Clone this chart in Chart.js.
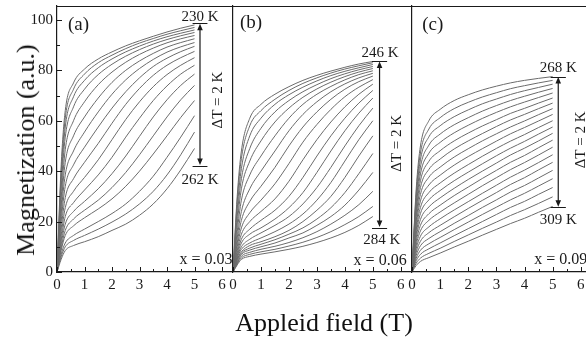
<!DOCTYPE html>
<html><head><meta charset="utf-8">
<script src="https://cdn.jsdelivr.net/npm/chart.js@4.4.1/dist/chart.umd.min.js"></script>
<style>
html,body{margin:0;padding:0;background:#fff;overflow:hidden;}
#wrap{position:relative;width:586px;height:341px;overflow:hidden;background:#fff;}
#wrap canvas{position:absolute;top:0;}
.t{position:absolute;font-family:'Liberation Serif','Times New Roman',serif;color:#111;white-space:nowrap;line-height:1;transform:translate(-50%,-50%);}
</style></head><body>
<div id="wrap">
<canvas id="ca" width="233" height="341" style="left:0px"></canvas>
<canvas id="cb" width="190" height="341" style="left:222px"></canvas>
<canvas id="cc" width="191" height="341" style="left:401px"></canvas>
<div class="t" id="xt" style="left:324px;top:323px;font-size:26px;">Appleid field (T)</div>
<div class="t" id="yt" style="left:26px;top:150px;font-size:26px;transform:translate(-50%,-50%) rotate(-90deg);">Magnetization (a.u.)</div>
</div>
<script>
// ---- data ----
const fields = [0, 0.15, 0.3, 0.6, 1, 1.5, 2, 2.5, 3, 3.5, 4, 4.5, 5];
const xTicks = [0, 1, 2, 3, 4, 5, 6];
const yTicks = [0, 20, 40, 60, 80, 100];

const tempsA = [230,232,234,236,238,240,242,244,246,248,250,252,254,256,258,260,262];
const curvesA = [
 [0,42,64,75,80.5,84.5,87.3,89.7,91.7,93.5,95.2,96.7,98],
 [0,39,61,72.5,78.5,83,86,88.6,90.8,92.6,94.3,95.7,97],
 [0,36,57.5,69.5,76,81,84.5,87.3,89.6,91.6,93.3,94.7,96],
 [0,33,53.5,65.5,72.5,78.3,82.4,85.6,88.2,90.4,92.2,93.7,95],
 [0,29,48.5,60,67.5,74.3,79.3,83.2,86.3,88.8,90.9,92.5,93.8],
 [0,26,43.5,54,61.5,69,75.2,80,83.7,86.7,89.2,91,92.5],
 [0,23,38.5,48,55.5,63.5,70.5,76.2,80.7,84.3,87.2,89.3,91],
 [0,20,34,42.5,49.5,57.5,65,71.5,77,81.5,84.8,87.4,89.5],
 [0,17,29.5,37,43.5,51,59,66.5,72.8,78,82,85,87.5],
 [0,14.5,25.5,32,37.5,44.5,52.5,60.5,67.5,73.5,78.3,82,85],
 [0,12.5,22,27.5,32.5,38.5,45.5,53.5,61,68,73.8,78.5,82],
 [0,11,19,24,28,33,39,46,53.8,61.5,68.3,74,78.5],
 [0,9.5,16.5,21,24.5,28.5,33.5,39.5,46.5,54,61.5,68.3,74],
 [0,8.5,14.5,18.3,21.5,25,29,34,40,46.8,54,61.3,68],
 [0,7,11.5,14.5,17,20,23.2,27,32,38,45.5,53.5,62],
 [0,6,10,12.5,14.5,17,19.8,23,27,32,38.5,46.5,55.5],
 [0,5,8.5,10.5,12,14,16.5,19,22.5,27,33,40.5,49]
];

const tempsB = [246,248,250,252,254,256,258,260,262,264,266,268,270,272,274,276,278,280,282,284];
const curvesB = [
 [0,30,48,61,66.5,70.5,73.5,76,78,79.7,81.2,82.5,83.5],
 [0,28,45,58,64,68.5,72,74.8,77,78.9,80.5,81.8,83],
 [0,25,41,54,61,66.5,70.3,73.3,75.8,77.9,79.6,81,82.3],
 [0,22,37,49,57,63.5,68,71.5,74.3,76.7,78.6,80.2,81.5],
 [0,19,33,44,52,59.5,65,69.3,72.6,75.3,77.5,79.3,80.7],
 [0,16,28.5,38.5,46,54,61,66.5,70.5,73.6,76.2,78.3,79.8],
 [0,13.5,24,33,40,48,56,62.5,67.5,71.5,74.6,77,78.8],
 [0,11.5,20.5,28,34,41.5,50,57.5,63.5,68.5,72.5,75.5,77.7],
 [0,10,17.5,23.5,28.5,35,43,51.5,58.5,64.5,69.5,73.3,76.3],
 [0,8.5,15,20,24,29,36,44.5,52.5,59.5,65.5,70.5,74.5],
 [0,7.5,13,17,20.5,24.5,30,37.5,46,54,61,67,72],
 [0,6.5,11.5,15,17.5,21,25.5,31.5,39.5,48,56,63,69],
 [0,6,10,13,15.5,18.5,22,27,33.5,41.5,50,58,65],
 [0,5.5,9,11.5,13.5,16,19,23,28.5,35.5,44,52.5,60],
 [0,5,8,10.5,12,14,16.5,20,24.5,30,37.5,46,54],
 [0,4.5,7.5,9.5,11,12.8,15,17.5,21,25.5,31.5,39,47],
 [0,4,7,8.7,10,11.5,13.5,15.5,18.5,22,26.5,32.5,39.5],
 [0,3.6,6.3,7.8,9,10.2,11.7,13.6,16,19,22.5,26.7,32],
 [0,3.2,5.6,7,8,9,10.3,11.8,13.7,16,18.8,22,26],
 [0,2.8,5,6.2,7.1,8,9,10.2,11.7,13.5,15.7,18.5,22]
];

const tempsC = [268,270,272,274,276,278,280,282,284,286,288,290,292,294,296,298,300,302,304,306,309];
const curvesC = [
 [0,33.0,50.0,60.0,64.5,68.0,70.3,72.2,73.7,75.0,76.0,76.8,77.5],
 [0,31.2,47.2,56.7,61.2,64.8,67.3,69.4,71.1,72.7,73.9,75.0,76],
 [0,29.3,44.5,53.6,58.0,61.6,64.3,66.7,68.6,70.4,71.9,73.2,74.5],
 [0,27.4,41.6,50.3,54.7,58.4,61.2,63.8,66.0,68.0,69.7,71.3,72.8],
 [0,25.6,38.9,47.1,51.4,55.2,58.2,60.9,63.3,65.5,67.4,69.2,71],
 [0,23.8,36.2,43.9,48.1,52.0,55.1,57.9,60.4,62.9,64.9,67.0,69],
 [0,22.0,33.5,40.7,44.8,48.8,52.0,54.9,57.7,60.3,62.5,64.8,67],
 [0,20.2,30.8,37.6,41.6,45.6,48.9,52.0,54.8,57.5,59.9,62.4,64.8],
 [0,18.5,28.2,34.5,38.4,42.4,45.8,48.9,51.9,54.8,57.3,59.9,62.5],
 [0,16.7,25.6,31.5,35.3,39.2,42.6,45.9,49.0,51.9,54.5,57.3,60],
 [0,15.1,23.2,28.6,32.3,36.2,39.6,42.9,46.1,49.1,51.8,54.7,57.5],
 [0,13.6,20.8,25.8,29.4,33.2,36.7,40.0,43.2,46.4,49.1,52.0,55],
 [0,12.0,18.5,23.1,26.5,30.3,33.7,37.1,40.3,43.5,46.2,49.3,52.3],
 [0,10.6,16.3,20.5,23.8,27.4,30.8,34.2,37.4,40.6,43.4,46.4,49.5],
 [0,9.2,14.2,17.9,21.1,24.6,27.9,31.2,34.4,37.6,40.4,43.4,46.5],
 [0,7.9,12.2,15.6,18.5,21.9,25.2,28.4,31.5,34.7,37.4,40.5,43.5],
 [0,6.6,10.4,13.3,16.0,19.3,22.4,25.6,28.6,31.7,34.3,37.3,40.3],
 [0,5.5,8.6,11.2,13.7,16.8,19.8,22.8,25.7,28.6,31.2,34.1,37],
 [0,4.5,7.0,9.2,11.5,14.4,17.2,20.0,22.8,25.6,28.0,30.8,33.5],
 [0,3.5,5.5,7.4,9.4,12.1,14.7,17.3,19.8,22.4,24.7,27.2,29.8],
 [0,2.6,4.2,5.7,7.5,9.9,12.2,14.6,16.9,19.2,21.3,23.7,26]
];

// ---- annotations (data units) ----
const annA = {
  texts: [
    {t:'(a)', x:0.4, y:98, size:19, align:'left'},
    {t:'230 K', x:5.2, y:101.3, size:15},
    {t:'262 K', x:5.2, y:36.5, size:15},
    {t:'ΔT = 2 K', x:5.85, y:68.2, size:15, rot:true},
    {t:'x = 0.03', x:5.42, y:5.0, size:16}
  ],
  arrow: {x:5.2, y1:98.7, y2:42.2, half:0.27}
};
const annB = {
  texts: [
    {t:'(b)', x:0.25, y:98.6, size:19, align:'left'},
    {t:'246 K', x:5.26, y:86.8, size:15},
    {t:'284 K', x:5.32, y:12.7, size:15},
    {t:'ΔT = 2 K', x:5.85, y:51, size:15, rot:true},
    {t:'x = 0.06', x:5.26, y:4.3, size:16}
  ],
  arrow: {x:5.24, y1:83.7, y2:17.6, half:0.27}
};
const annC = {
  texts: [
    {t:'(c)', x:0.36, y:98, size:19, align:'left'},
    {t:'268 K', x:5.2, y:80.8, size:15},
    {t:'309 K', x:5.2, y:20.6, size:15},
    {t:'ΔT = 2 K', x:6.0, y:52.4, size:15, rot:true},
    {t:'x = 0.09', x:5.29, y:5.0, size:16}
  ],
  arrow: {x:5.2, y1:77.5, y2:25.7, half:0.27}
};

const SERIF = "'Liberation Serif','Times New Roman',serif";
const INK = '#1a1a1a';

const deco = {
  id: 'deco',
  afterDraw(chart, args, opts) {
    const {ctx, chartArea: a, scales: {x, y}} = chart;
    ctx.save();
    ctx.strokeStyle = INK; ctx.lineWidth = 1.2;
    // top frame
    ctx.beginPath(); ctx.moveTo(a.left, a.top + 0.5); ctx.lineTo(a.right, a.top + 0.5); ctx.stroke();
    // inward ticks on x axis
    ctx.lineWidth = 1;
    xTicks.forEach(v => {
      const px = Math.round(x.getPixelForValue(v)) + 0.5;
      ctx.beginPath(); ctx.moveTo(px, a.bottom); ctx.lineTo(px, a.bottom - 5); ctx.stroke();
      const pm = Math.round(x.getPixelForValue(v + 0.5)) + 0.5;
      if (v + 0.5 <= x.max) { ctx.beginPath(); ctx.moveTo(pm, a.bottom); ctx.lineTo(pm, a.bottom - 3); ctx.stroke(); }
    });
    if (opts.yTicks) {
      yTicks.forEach(v => {
        const py = Math.round(y.getPixelForValue(v)) + 0.5;
        ctx.beginPath(); ctx.moveTo(a.left, py); ctx.lineTo(a.left + 5, py); ctx.stroke();
        const pm = Math.round(y.getPixelForValue(v + 10)) + 0.5;
        if (v + 10 <= y.max) { ctx.beginPath(); ctx.moveTo(a.left, pm); ctx.lineTo(a.left + 3, pm); ctx.stroke(); }
      });
    }
    const ann = opts.ann;
    if (ann) {
      const ar = ann.arrow;
      const ax = x.getPixelForValue(ar.x);
      const y1 = y.getPixelForValue(ar.y1), y2 = y.getPixelForValue(ar.y2);
      const xl = x.getPixelForValue(ar.x - ar.half), xr = x.getPixelForValue(ar.x + ar.half);
      ctx.strokeStyle = INK; ctx.fillStyle = INK; ctx.lineWidth = 1.2;
      ctx.beginPath();
      ctx.moveTo(xl, Math.round(y1) + 0.5); ctx.lineTo(xr, Math.round(y1) + 0.5);
      ctx.moveTo(xl, Math.round(y2) + 0.5); ctx.lineTo(xr, Math.round(y2) + 0.5);
      ctx.moveTo(ax, y1 + 5); ctx.lineTo(ax, y2 - 5);
      ctx.stroke();
      ctx.beginPath();
      ctx.moveTo(ax, y1 + 0.5); ctx.lineTo(ax - 2.8, y1 + 7); ctx.lineTo(ax + 2.8, y1 + 7); ctx.closePath();
      ctx.moveTo(ax, y2 - 0.5); ctx.lineTo(ax - 2.8, y2 - 7); ctx.lineTo(ax + 2.8, y2 - 7); ctx.closePath();
      ctx.fill();
      ann.texts.forEach(o => {
        const px = x.getPixelForValue(o.x), py = y.getPixelForValue(o.y);
        ctx.font = o.size + 'px ' + SERIF;
        ctx.fillStyle = INK;
        ctx.textBaseline = 'middle';
        ctx.textAlign = o.align || 'center';
        if (o.rot) {
          ctx.save(); ctx.translate(px, py); ctx.rotate(-Math.PI / 2);
          ctx.textAlign = 'center'; ctx.fillText(o.t, 0, 0); ctx.restore();
        } else {
          ctx.fillText(o.t, px, py);
        }
      });
    }
    ctx.restore();
  }
};

function datasets(curves, temps) {
  return curves.map((c, i) => ({
    label: temps[i] + ' K',
    data: c.map((m, j) => ({x: fields[j], y: m})),
    borderColor: '#6b6b6b',
    borderWidth: 1,
    pointRadius: 0,
    fill: false,
    cubicInterpolationMode: 'monotone'
  }));
}

function makeChart(id, curves, temps, ann, withY) {
  const tickFont = {family: SERIF, size: 15};
  return new Chart(document.getElementById(id), {
    type: 'line',
    data: {datasets: datasets(curves, temps)},
    options: {
      responsive: false,
      animation: false,
      events: [],
      layout: {padding: {top: 6, left: 0, right: 0, bottom: 0}, autoPadding: false},
      plugins: {legend: {display: false}, tooltip: {enabled: false}, title: {display: false},
                deco: {ann: ann, yTicks: withY}},
      scales: {
        x: {
          type: 'linear', min: 0, max: 6.4,
          afterBuildTicks(s) { s.ticks = xTicks.map(v => ({value: v})); },
          afterFit(s) { s.height = 341 - 272; s.paddingLeft = 0; s.paddingRight = 0; },
          ticks: {font: tickFont, color: INK, padding: 4, maxRotation: 0, autoSkip: false},
          grid: {display: true, drawOnChartArea: false, drawTicks: false},
          border: {display: true, color: INK, width: 1.2}
        },
        y: {
          type: 'linear', min: 0, max: 105.5,
          afterBuildTicks(s) { s.ticks = yTicks.map(v => ({value: v})); },
          afterFit(s) { s.width = withY ? 57 : 11; s.paddingTop = 0; s.paddingBottom = 0; },
          ticks: {display: withY, font: tickFont, color: INK, padding: 4},
          grid: {display: true, drawOnChartArea: false, drawTicks: false},
          border: {display: true, color: INK, width: 1.2}
        }
      }
    },
    plugins: [deco]
  });
}

makeChart('ca', curvesA, tempsA, annA, true);
makeChart('cb', curvesB, tempsB, annB, false);
makeChart('cc', curvesC, tempsC, annC, false);
</script>
</body></html>
